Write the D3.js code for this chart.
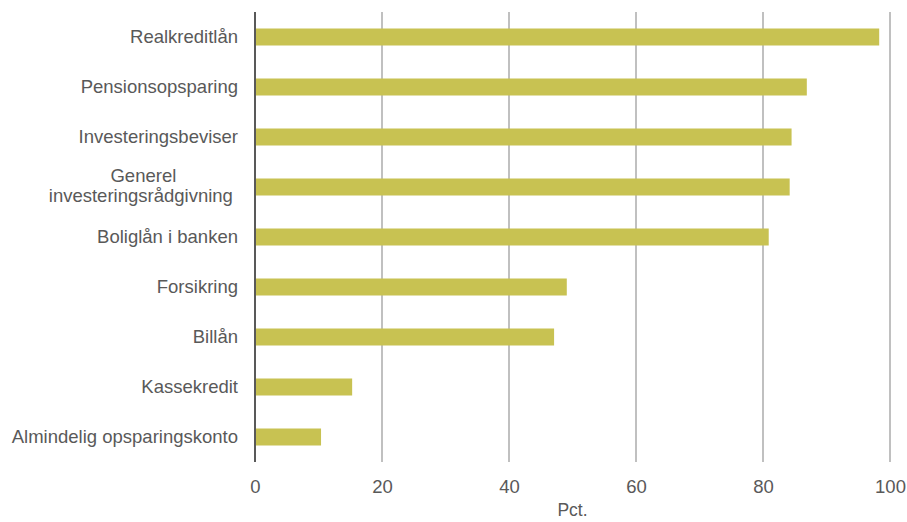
<!DOCTYPE html>
<html><head><meta charset="utf-8">
<script src="https://cdn.jsdelivr.net/npm/d3@7"></script>
<style>body{margin:0;background:#fff;} text{font-family:"Liberation Sans",Arial,sans-serif;}</style>
</head><body><svg id="c" width="907" height="522"></svg>
<script>
const categories = ["Realkreditlån","Pensionsopsparing","Investeringsbeviser","Generel\ninvesteringsrådgivning\u00a0","Boliglån i banken","Forsikring","Billån","Kassekredit","Almindelig opsparingskonto"];
const values = [98.3, 86.9, 84.5, 84.2, 80.9, 49.1, 47.1, 15.3, 10.4];
const ticks = [0,20,40,60,80,100];
const axisTitle = "Pct.";

const FS = 18.5;
const TXT = "#595959";
const svg = d3.select("#c");
const x = d3.scaleLinear().domain([0,100]).range([255,890]);
const y = d3.scaleBand().domain(categories).range([12,462]).paddingInner(0.66).paddingOuter(0.33);

// gridlines
svg.append("g").selectAll("line").data(ticks.filter(t=>t>0)).join("line")
  .attr("x1",d=>x(d)).attr("x2",d=>x(d)).attr("y1",12).attr("y2",462)
  .attr("stroke","#C0C0C0").attr("stroke-width",2);

// bars
svg.append("g").selectAll("rect").data(values).join("rect")
  .attr("x",x(0)).attr("y",(d,i)=>y(categories[i]))
  .attr("width",d=>x(d)-x(0)).attr("height",y.bandwidth())
  .attr("fill","#C8C252");

// zero axis
svg.append("line").attr("x1",x(0)).attr("x2",x(0)).attr("y1",12).attr("y2",462)
  .attr("stroke","#595959").attr("stroke-width",2);

// x axis
const xa = svg.append("g").attr("transform","translate(0,462)")
  .call(d3.axisBottom(x).tickValues(ticks).tickSize(0).tickPadding(18));
xa.select(".domain").remove();
xa.selectAll("text").attr("font-size",FS).attr("fill",TXT).attr("font-family","Liberation Sans, Arial, sans-serif");

svg.append("text").attr("x",(x(0)+x(100))/2).attr("y",516).attr("text-anchor","middle")
  .attr("font-size",FS-1).attr("fill",TXT).text(axisTitle);

// category labels
const lg = svg.append("g");
categories.forEach(c=>{
  const lines = c.split("\n");
  const cy = y(c)+y.bandwidth()/2;
  const t = lg.append("text").attr("font-size",FS).attr("fill",TXT).attr("style","white-space:pre");
  if(lines.length===1){
    t.attr("x",238).attr("y",cy).attr("dy","0.35em").attr("text-anchor","end").text(c);
  } else {
    const tmp = lg.append("text").attr("font-size",FS).attr("style","white-space:pre");
    let w = 0;
    lines.forEach(l=>{tmp.text(l); w=Math.max(w,tmp.node().getComputedTextLength());});
    tmp.remove();
    const cx = 238 - w/2;
    t.attr("text-anchor","middle");
    lines.forEach((l,k)=>{
      t.append("tspan").attr("x",cx).attr("y",cy+(k-(lines.length-1)/2)*20 - 1).attr("dy","0.35em").text(l);
    });
  }
});
</script></body></html>
